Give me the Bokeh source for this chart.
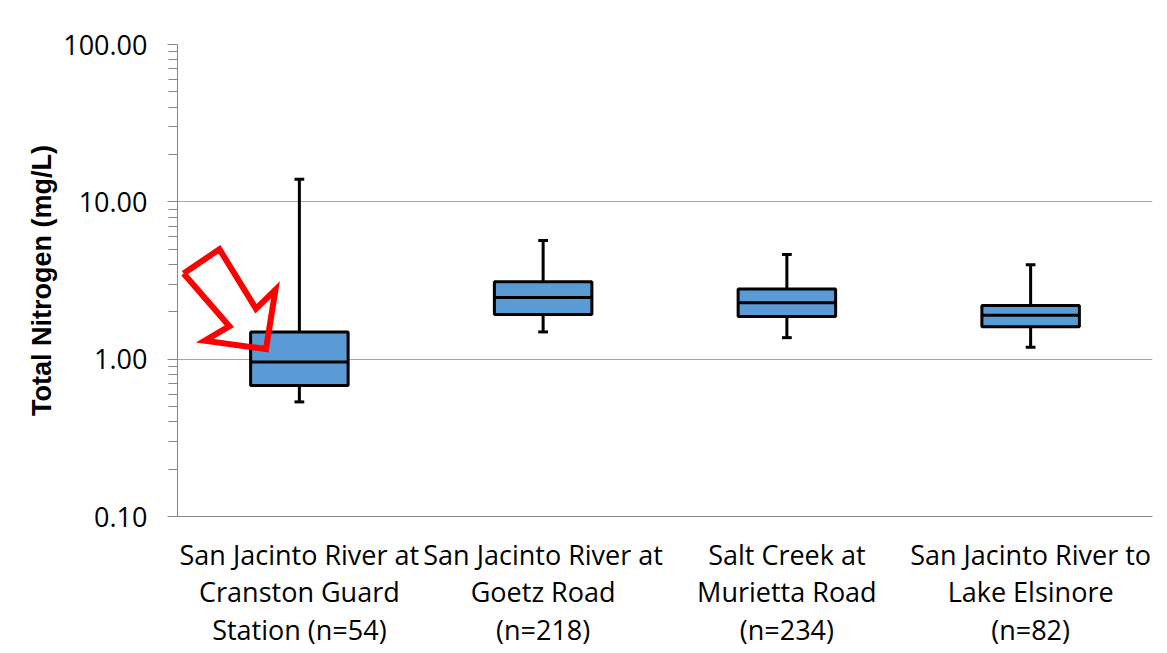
from bokeh.plotting import figure
from bokeh.models import Range1d, FixedTicker, NumeralTickFormatter, CustomJSTickFormatter
from bokeh.embed import file_html
from bokeh.resources import INLINE

# ---- data ----
sites = [
    "San Jacinto River at\nCranston Guard\nStation (n=54)",
    "San Jacinto River at\nGoetz Road\n(n=218)",
    "Salt Creek at\nMurietta Road\n(n=234)",
    "San Jacinto River to\nLake Elsinore\n(n=82)",
]
whisker_low = [0.535, 1.49, 1.37, 1.19]
q1 = [0.68, 1.92, 1.87, 1.61]
median = [0.96, 2.47, 2.28, 1.90]
q3 = [1.49, 3.10, 2.79, 2.19]
whisker_high = [13.9, 5.68, 4.63, 3.98]

y_major = [0.1, 1, 10, 100]
y_minor = [m * d for d in (0.1, 1, 10) for m in range(2, 10)]

# annotation arrow (x in category units, y in mg/L)
arrow_x = [0.025, 0.172, 0.322, 0.402, 0.363, 0.112, 0.213, 0.025]
arrow_y = [3.50, 5.00, 2.09, 2.76, 1.16, 1.31, 1.62, 3.50]

# ---- figure ----
BOX_W = 0.4
CAP_W = 0.04
xs = [i + 0.5 for i in range(len(sites))]

p = figure(width=1160, height=650, y_axis_type="log",
           x_range=Range1d(0, len(sites)), y_range=Range1d(0.1, 100),
           output_backend="svg", toolbar_location=None,
           min_border_left=177, min_border_right=8,
           min_border_top=44, min_border_bottom=134)
p.outline_line_color = None
p.background_fill_color = "white"
p.border_fill_color = "white"

# grid
p.xgrid.grid_line_color = None
p.ygrid.grid_line_color = "#A6A6A6"
p.ygrid.grid_line_width = 1

# y axis
p.yaxis.ticker = FixedTicker(ticks=y_major, minor_ticks=y_minor)
p.yaxis.formatter = NumeralTickFormatter(format="0.00")
p.yaxis.axis_line_color = "#868686"
p.yaxis.major_tick_line_color = "#868686"
p.yaxis.minor_tick_line_color = "#868686"
p.yaxis.major_tick_in = 0
p.yaxis.major_tick_out = 10
p.yaxis.minor_tick_in = 0
p.yaxis.minor_tick_out = 9
p.yaxis.major_label_standoff = 20
p.yaxis.major_label_text_font = "Open Sans"
p.yaxis.major_label_text_font_size = "27px"
p.yaxis.major_label_text_color = "black"
p.yaxis.axis_label = "Total Nitrogen (mg/L)"
p.yaxis.axis_label_text_font = "Liberation Sans"
p.yaxis.axis_label_text_font_style = "bold"
p.yaxis.axis_label_text_font_size = "27px"
p.yaxis.axis_label_text_color = "black"
p.yaxis.axis_label_standoff = 3

# x axis
p.xaxis.ticker = FixedTicker(ticks=xs, minor_ticks=[])
p.xaxis.formatter = CustomJSTickFormatter(args=dict(labels=sites),
                                          code="return labels[Math.floor(tick)];")
p.xaxis.axis_line_color = "#868686"
p.xaxis.major_tick_line_color = None
p.xaxis.minor_tick_line_color = None
p.xaxis.major_tick_in = 0
p.xaxis.major_tick_out = 0
p.xaxis.major_label_standoff = 19
p.xaxis.major_label_text_font = "Open Sans"
p.xaxis.major_label_text_font_size = "27px"
p.xaxis.major_label_text_line_height = 1.02
p.xaxis.major_label_text_color = "black"

# whiskers
p.segment(x0=xs, y0=q3, x1=xs, y1=whisker_high, line_color="black", line_width=3)
p.segment(x0=xs, y0=q1, x1=xs, y1=whisker_low, line_color="black", line_width=3)
p.segment(x0=[x - CAP_W / 2 for x in xs], y0=whisker_high,
          x1=[x + CAP_W / 2 for x in xs], y1=whisker_high, line_color="black", line_width=3)
p.segment(x0=[x - CAP_W / 2 for x in xs], y0=whisker_low,
          x1=[x + CAP_W / 2 for x in xs], y1=whisker_low, line_color="black", line_width=3)

# boxes
p.vbar(x=xs, width=BOX_W, bottom=q1, top=q3, fill_color="#5B9BD5",
       line_color="black", line_width=3)
p.segment(x0=[x - BOX_W / 2 for x in xs], y0=median,
          x1=[x + BOX_W / 2 for x in xs], y1=median, line_color="black", line_width=3)

# arrow annotation
p.line(arrow_x, arrow_y, line_color="#FF0000", line_width=6, line_join="miter")

open("out.html", "w").write(file_html(p, INLINE))
